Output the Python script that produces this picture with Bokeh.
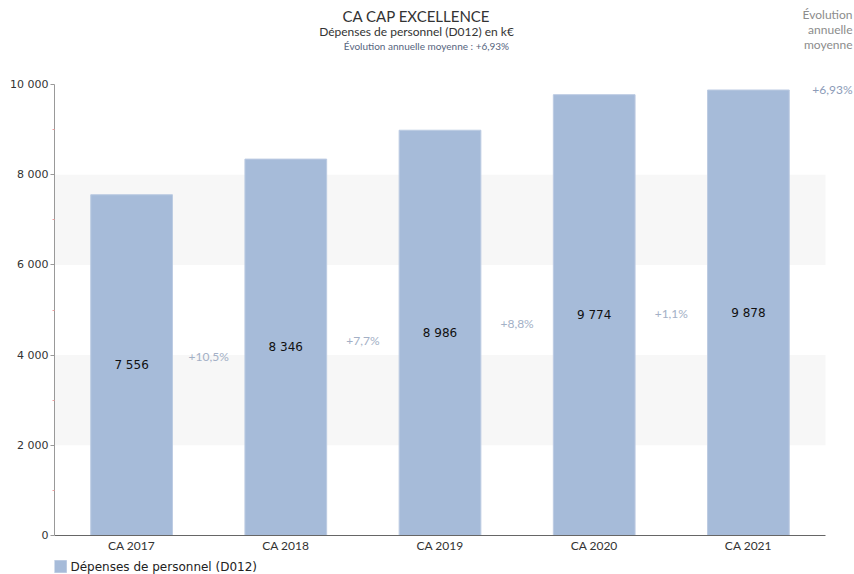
from bokeh.plotting import figure
from bokeh.models import (ColumnDataSource, FixedTicker, Range1d, BoxAnnotation,
                          Label, LabelSet)
from bokeh.core.properties import value
from bokeh.embed import file_html
from bokeh.resources import INLINE

# ---- data ----
categories = ["CA 2017", "CA 2018", "CA 2019", "CA 2020", "CA 2021"]
values = [7556, 8346, 8986, 9774, 9878]
value_labels = ["7 556", "8 346", "8 986", "9 774", "9 878"]
growth_labels = ["+10,5%", "+7,7%", "+8,8%", "+1,1%"]
y_ticks = [0, 2000, 4000, 6000, 8000, 10000]
y_tick_labels = ["0", "2 000", "4 000", "6 000", "8 000", "10 000"]
y_minor = [1000, 3000, 5000, 7000, 9000]
bands = [(2000, 4000), (6000, 8000)]
title = "CA CAP EXCELLENCE"
subtitle = "Dépenses de personnel (D012) en k€"
subtitle2 = "Évolution annuelle moyenne : +6,93%"
side_lines = ["Évolution", "annuelle", "moyenne"]
side_value = "+6,93%"
series_name = "Dépenses de personnel (D012)"

BAR = "#a6bbd9"
BAR_LINE = "#bccbe2"
W, H = 854, 574
LEFT = 54           # pixel of the value axis
AX_RIGHT = 825      # pixel where the category axis ends
AX_TOP = 84         # pixel of the 10 000 level
AX_BOTTOM = 535     # pixel of the 0 level
n = len(categories)
ppx = (AX_RIGHT - LEFT) / n
ppy = (AX_BOTTOM - AX_TOP) / 10000.0
x_end = n + 0.5 + (W - AX_RIGHT) / ppx
y_start = -(H - AX_BOTTOM) / ppy
y_end = 10000 + AX_TOP / ppy

def fx(px):
    return 0.5 + (px - LEFT) / ppx
def fy(py):
    return (AX_BOTTOM - py) / ppy

p = figure(width=W, height=H, output_backend="svg", toolbar_location=None,
           x_range=Range1d(0.5, x_end), y_range=Range1d(y_start, y_end),
           min_border_left=LEFT, min_border_right=0,
           min_border_top=0, min_border_bottom=0,
           title_location=None, x_axis_location=None)
p.outline_line_color = None
p.grid.visible = False
p.background_fill_color = "white"
p.border_fill_color = "white"

for b0, b1 in bands:
    p.add_layout(BoxAnnotation(bottom=b0, top=b1, left=0.5, right=n + 0.5,
                               fill_color="#f7f7f7", fill_alpha=1,
                               line_color=None, level="underlay"))

xs = list(range(1, n + 1))
src = ColumnDataSource(dict(x=xs, top=values, mid=[v / 2 for v in values],
                            lab=value_labels, cat=categories,
                            cy=[fy(545)] * n))
p.vbar(x="x", top="top", width=0.53, source=src, fill_color=BAR,
       line_color=BAR_LINE, line_width=1)

# category axis line and labels
p.segment(x0=[0.5], y0=[0], x1=[n + 0.5], y1=[0], line_color="#666666",
          line_width=1)
p.add_layout(LabelSet(x="x", y="cy", text="cat", source=src,
                      text_align="center", text_baseline="middle",
                      text_font=value("Lato"), text_font_size=value("12px"),
                      text_color="#333333"))

p.add_layout(LabelSet(x="x", y="mid", text="lab", source=src,
                      text_align="center", text_baseline="middle",
                      text_font=value("DejaVu Sans"), text_font_size=value("12px"),
                      text_color="#111111"))

gsrc = ColumnDataSource(dict(
    x=[i + 1.5 for i in range(len(growth_labels))],
    y=[(values[i] + values[i + 1]) / 4 for i in range(len(growth_labels))],
    lab=growth_labels))
p.add_layout(LabelSet(x="x", y="y", text="lab", source=gsrc,
                      text_align="center", text_baseline="middle",
                      text_font=value("Lato"), text_font_size=value("12px"),
                      text_color="#a3b0c6"))

# value axis
p.yaxis.ticker = FixedTicker(ticks=y_ticks, minor_ticks=y_minor)
p.yaxis.bounds = (0, 10000)
p.yaxis.major_label_overrides = {t: l for t, l in zip(y_ticks, y_tick_labels)}
p.yaxis.axis_line_color = "#999999"
p.yaxis.major_tick_line_color = "#999999"
p.yaxis.major_tick_out = 4
p.yaxis.major_tick_in = 0
p.yaxis.minor_tick_line_color = "#f0a0a0"
p.yaxis.minor_tick_out = 2
p.yaxis.minor_tick_in = 0
p.yaxis.major_label_text_font = "DejaVu Sans"
p.yaxis.major_label_text_font_size = "11px"
p.yaxis.major_label_text_color = "#333333"
p.yaxis.major_label_standoff = 2

# titles
p.add_layout(Label(x=fx(416), y=fy(15), text=title, text_align="center",
                   text_baseline="middle", text_font="Lato",
                   text_font_size="15px", text_color="#333333"))
p.add_layout(Label(x=fx(416), y=fy(31), text=subtitle, text_align="center",
                   text_baseline="middle", text_font="Lato",
                   text_font_size="12px", text_color="#333333"))
p.add_layout(Label(x=fx(426), y=fy(45), text=subtitle2, text_align="center",
                   text_baseline="middle", text_font="Lato",
                   text_font_size="10px", text_color="#56657e"))

for i, s in enumerate(side_lines):
    p.add_layout(Label(x=fx(852), y=fy(14 + 15 * i), text=s, text_align="right",
                       text_baseline="middle", text_font="Lato",
                       text_font_size="12px", text_color="#8c8c8c"))
p.add_layout(Label(x=fx(852), y=fy(89), text=side_value, text_align="right",
                   text_baseline="middle", text_font="Lato",
                   text_font_size="12px", text_color="#8c9bb8"))

# legend
p.quad(left=[fx(53)], right=[fx(66)], top=[fy(560)], bottom=[fy(572)],
       fill_color=BAR, line_color=BAR_LINE)
p.add_layout(Label(x=fx(70), y=fy(566), text=series_name, text_align="left",
                   text_baseline="middle", text_font="DejaVu Sans",
                   text_font_size="12px", text_color="#222222"))

open("out.html", "w").write(file_html(p, INLINE))
